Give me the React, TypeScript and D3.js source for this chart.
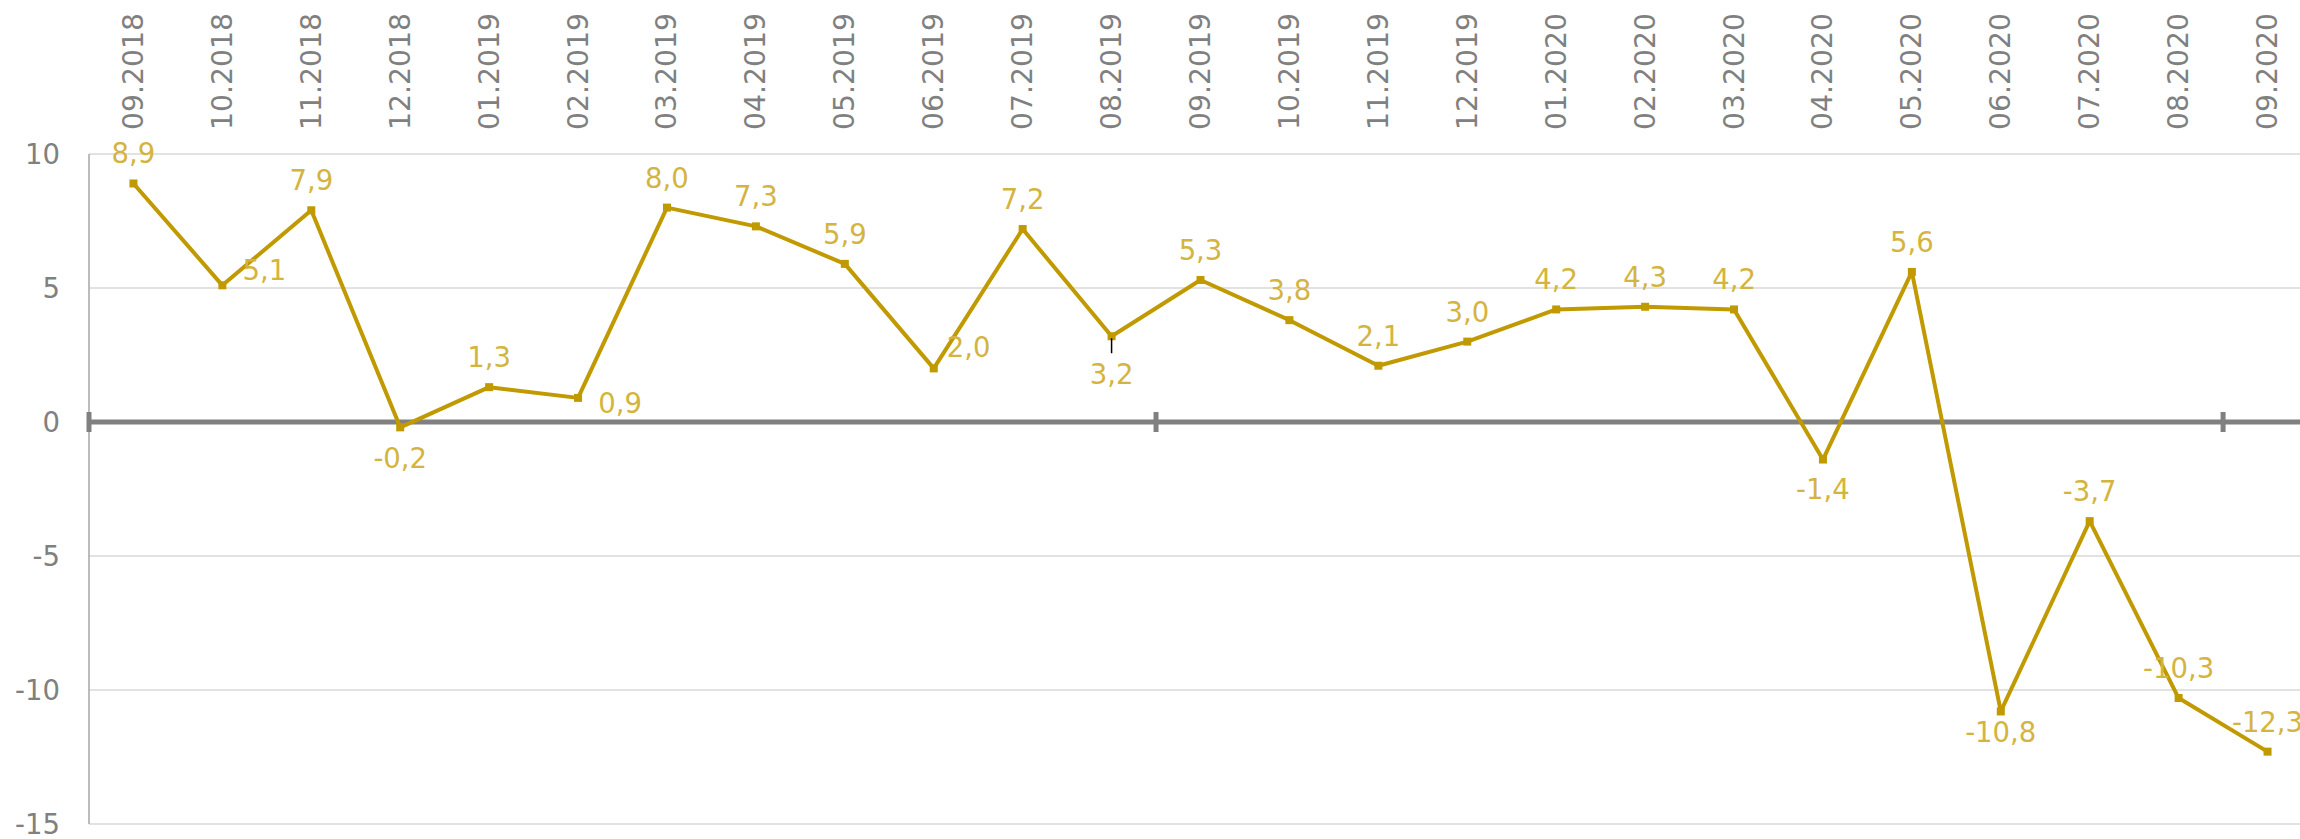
import React, { useRef, useEffect } from "react";
import * as d3 from "d3";

const months = [
    "09.2018", "10.2018", "11.2018", "12.2018",
    "01.2019", "02.2019", "03.2019", "04.2019", "05.2019", "06.2019",
    "07.2019", "08.2019", "09.2019", "10.2019", "11.2019", "12.2019",
    "01.2020", "02.2020", "03.2020", "04.2020", "05.2020", "06.2020",
    "07.2020", "08.2020", "09.2020",
];

const values = [
    8.9, 5.1, 7.9, -0.2, 1.3, 0.9, 8.0, 7.3, 5.9, 2.0, 7.2, 3.2, 5.3,
    3.8, 2.1, 3.0, 4.2, 4.3, 4.2, -1.4, 5.6, -10.8, -3.7, -10.3, -12.3,
];

const yTicks = [-15, -10, -5, 0, 5, 10];

// label offsets (dx to label centre, dy to baseline), default is above the point
const labelOffsets: Record<number, [number, number]> = {
    1: [42, -5],
    3: [0, 41],
    5: [42, 15],
    9: [35, -11],
    11: [0, 48],
    19: [0, 39],
    21: [0, 31],
};

const LINE = "#c09a00";
const LABEL = "#d4b440";
const AXIS = "#808080";
const FONT = "'DejaVu Sans', Verdana, sans-serif";

const App = () => {
    const ref = useRef<SVGSVGElement>(null);

    useEffect(() => {
        document.body.style.margin = "0";
        if (!ref.current) return;
        const svg = d3.select(ref.current);
        svg.selectAll("*").remove();

        const left = 89;
        const step = 88.92;
        const x = d3
            .scaleBand()
            .domain(months)
            .range([left, left + step * months.length])
            .padding(0);
        const cx = (m: string) => (x(m) as number) + x.bandwidth() / 2;

        const y = d3.scaleLinear().domain([-15, 10]).range([824, 154]);

        // gridlines
        svg.append("g")
            .selectAll("line")
            .data(yTicks.filter((d) => d !== 0))
            .join("line")
            .attr("x1", left)
            .attr("x2", 2300)
            .attr("y1", (d) => y(d))
            .attr("y2", (d) => y(d))
            .attr("stroke", "#d9d9d9")
            .attr("stroke-width", 1.5);

        // y axis line
        svg.append("line")
            .attr("x1", left)
            .attr("x2", left)
            .attr("y1", y(10))
            .attr("y2", y(-15))
            .attr("stroke", "#a6a6a6")
            .attr("stroke-width", 1.5);

        // y tick labels
        svg.append("g")
            .selectAll("text")
            .data(yTicks)
            .join("text")
            .attr("x", 60)
            .attr("y", (d) => y(d))
            .attr("text-anchor", "end")
            .attr("dominant-baseline", "central")
            .attr("font-family", FONT)
            .attr("font-size", 27.5)
            .attr("fill", AXIS)
            .text((d) => String(d));

        // zero line with tick marks every 12 months
        svg.append("line")
            .attr("x1", left)
            .attr("x2", 2300)
            .attr("y1", y(0))
            .attr("y2", y(0))
            .attr("stroke", AXIS)
            .attr("stroke-width", 5);

        const tickCats = [0, 12, 24].map((i) => x(months[i]) as number);
        svg.append("g")
            .selectAll("line")
            .data(tickCats)
            .join("line")
            .attr("x1", (d) => d)
            .attr("x2", (d) => d)
            .attr("y1", y(0) - 10)
            .attr("y2", y(0) + 10)
            .attr("stroke", AXIS)
            .attr("stroke-width", 5);

        // category labels, rotated
        svg.append("g")
            .selectAll("text")
            .data(months)
            .join("text")
            .attr("transform", (d) => `translate(${cx(d)},130) rotate(-90)`)
            .attr("text-anchor", "start")
            .attr("dominant-baseline", "central")
            .attr("font-family", FONT)
            .attr("font-size", 28.3)
            .attr("fill", AXIS)
            .text((d) => d);

        const data = months.map((m, i) => ({ m, v: values[i], i }));

        const line = d3
            .line<{ m: string; v: number }>()
            .x((d) => cx(d.m))
            .y((d) => y(d.v));

        svg.append("path")
            .datum(data)
            .attr("fill", "none")
            .attr("stroke", LINE)
            .attr("stroke-width", 4)
            .attr("stroke-linejoin", "round")
            .attr("d", line);

        svg.append("g")
            .selectAll("rect")
            .data(data)
            .join("rect")
            .attr("x", (d) => cx(d.m) - 4)
            .attr("y", (d) => y(d.v) - 4)
            .attr("width", 8)
            .attr("height", 8)
            .attr("fill", LINE);

        // leader line for 08.2019
        svg.append("line")
            .attr("x1", cx(months[11]))
            .attr("x2", cx(months[11]))
            .attr("y1", y(values[11]) + 2)
            .attr("y2", y(values[11]) + 17)
            .attr("stroke", "#000")
            .attr("stroke-width", 1.5);

        svg.append("g")
            .selectAll("text")
            .data(data)
            .join("text")
            .attr("x", (d) => cx(d.m) + (labelOffsets[d.i] ? labelOffsets[d.i][0] : 0))
            .attr("y", (d) => y(d.v) + (labelOffsets[d.i] ? labelOffsets[d.i][1] : -20))
            .attr("text-anchor", "middle")
            .attr("font-family", FONT)
            .attr("font-size", 27.5)
            .attr("fill", LABEL)
            .text((d) => d.v.toFixed(1).replace(".", ","));
    }, []);

    return (
        <svg
            ref={ref}
            width={2300}
            height={839}
            style={{ display: "block", background: "#fff" }}
        />
    );
};

export default App;
